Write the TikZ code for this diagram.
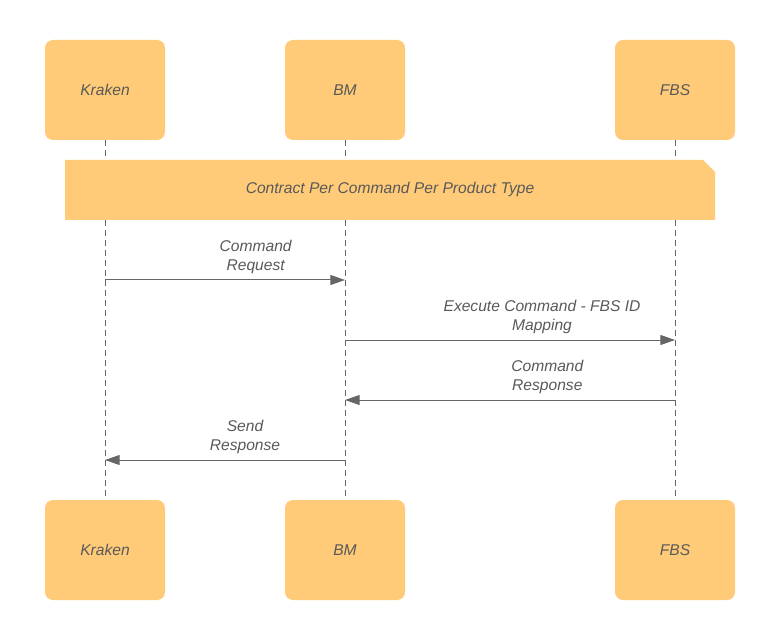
\documentclass[tikz,border=0pt]{standalone}
\usepackage{fontspec}
\setmainfont{Liberation Sans}
\usetikzlibrary{arrows.meta}
\definecolor{boxfill}{HTML}{FFCB78}
\definecolor{inkgray}{HTML}{595959}
\definecolor{linegray}{HTML}{666666}
\begin{document}
\begin{tikzpicture}[x=0.75pt, y=-0.75pt,
  actor/.style={fill=boxfill, rounded corners=6pt, minimum width=90pt, minimum height=75pt, inner sep=0pt, text=inkgray, font=\itshape\fontsize{11.7}{14}\selectfont},
  lifeline/.style={draw=linegray, line width=0.75pt, dash pattern=on 4.5pt off 3pt},
  msg/.style={draw=linegray, line width=0.75pt, -{Triangle[length=11pt,width=7.5pt]}},
  msglabel/.style={above, align=center, inner sep=4.5pt, text=inkgray, font=\itshape\fontsize{11.7}{14}\selectfont}]
\useasboundingbox (0,0) rectangle (770,641);
% actors at the top and at the bottom
\foreach \name/\txt/\x in {kraken/Kraken/105, bm/BM/345, fbs/FBS/675} {
  \node[actor] (\name top) at (\x,90) {\txt};
  \node[actor] (\name bot) at (\x,550) {\txt};
  \draw[lifeline] (\name top) -- (\name bot);
}
% note with folded corner
\coordinate (notesw) at (65,220);
\coordinate (notene) at (715,160);
\fill[boxfill] (notesw) -- (notesw |- notene) -- ([xshift=-9pt]notene) -- ([yshift=-9pt]notene) -- (notene |- notesw) -- cycle;
\node[text=inkgray, font=\itshape\fontsize{11.7}{14}\selectfont] (contract) at (390,189) {Contract Per Command Per Product Type};
% messages
\draw[msg] (krakentop |- 0,280) -- node[msglabel, xshift=23pt] {Command\\Request} (bmtop |- 0,280);
\draw[msg] (bmtop |- 0,340) -- node[msglabel, xshift=24pt] {Execute Command - FBS ID\\Mapping} (fbstop |- 0,340);
\draw[msg] (fbstop |- 0,400) -- node[msglabel, xshift=28pt] {Command\\Response} (bmtop |- 0,400);
\draw[msg] (bmtop |- 0,460) -- node[msglabel, xshift=15pt] {Send\\Response} (krakentop |- 0,460);
\end{tikzpicture}
\end{document}
